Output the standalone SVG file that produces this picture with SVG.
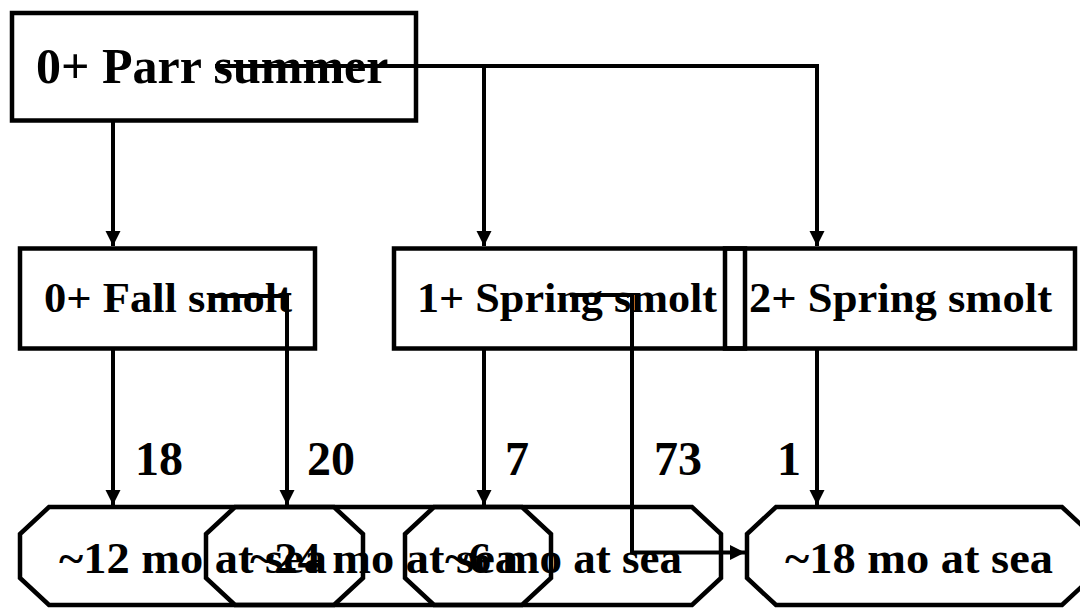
<svg xmlns="http://www.w3.org/2000/svg" width="1080" height="608" viewBox="0 0 1080 608">
  <defs>
    <marker id="arr" markerUnits="userSpaceOnUse" markerWidth="16" markerHeight="16" viewBox="0 0 16 16" refX="15" refY="8" orient="auto">
      <path d="M0,0.5 L15,8 L0,15.5 Z" fill="#000"/>
    </marker>
    <style>
      .shape { fill: none; stroke: #000; stroke-width: 4.5; }
      .conn { fill: none; stroke: #000; stroke-width: 4; }
      .t { font-family: "Liberation Serif", "Times New Roman", serif; font-weight: bold; fill: #000; }
      .top { font-size: 50px; }
      .mid { font-size: 42px; }
      .bot { font-size: 44px; }
      .lbl { font-size: 48px; }
    </style>
  </defs>
  <rect width="1080" height="608" fill="#fff"/>

  <g id="parr-summer">
    <rect class="shape" x="12" y="13" width="404" height="107.5"/>
    <text class="t top" x="36" y="83">0+ Parr summer</text>
  </g>
  <g id="fall-smolt">
    <rect class="shape" x="20" y="248.5" width="295" height="100"/>
    <text class="t mid" x="44" y="312" textLength="248" lengthAdjust="spacingAndGlyphs">0+ Fall smolt</text>
  </g>
  <g id="spring-smolt-1">
    <rect class="shape" x="394" y="248.5" width="351" height="100"/>
    <text class="t mid" x="417" y="312" textLength="300" lengthAdjust="spacingAndGlyphs">1+ Spring smolt</text>
  </g>
  <g id="spring-smolt-2">
    <rect class="shape" x="725" y="248.5" width="350" height="100"/>
    <text class="t mid" x="749" y="312" textLength="303" lengthAdjust="spacingAndGlyphs">2+ Spring smolt</text>
  </g>
  <g id="sea-12">
    <polygon class="shape" points="49,507 692,507 721,534 721,578 692,605 49,605 20,578 20,534"/>
    <text class="t bot" x="59" y="573" textLength="268" lengthAdjust="spacingAndGlyphs">~12 mo at sea</text>
  </g>
  <g id="sea-24">
    <polygon class="shape" points="235,507 334,507 363,534 363,578 334,605 235,605 206,578 206,534"/>
    <text class="t bot" x="250" y="573" textLength="268" lengthAdjust="spacingAndGlyphs">~24 mo at sea</text>
  </g>
  <g id="sea-6">
    <polygon class="shape" points="434,507 522,507 551,534 551,578 522,605 434,605 405,578 405,534"/>
    <text class="t bot" x="445" y="573" textLength="237" lengthAdjust="spacingAndGlyphs">~6 mo at sea</text>
  </g>
  <g id="sea-18">
    <polygon class="shape" points="776,507 1062,507 1091,534 1091,578 1062,605 776,605 747,578 747,534"/>
    <text class="t bot" x="785" y="573" textLength="268" lengthAdjust="spacingAndGlyphs">~18 mo at sea</text>
  </g>

  <g id="connectors">
    <path class="conn" d="M113,122 V246" marker-end="url(#arr)"/>
    <path class="conn" d="M215,66 H817 V246" marker-end="url(#arr)"/>
    <path class="conn" d="M484,66 V246" marker-end="url(#arr)"/>
    <path class="conn" d="M113,350 V505" marker-end="url(#arr)"/>
    <path class="conn" d="M212,296 H287 V505" marker-end="url(#arr)"/>
    <path class="conn" d="M484,350 V505" marker-end="url(#arr)"/>
    <path class="conn" d="M570,295 H632 V552.5 H745" marker-end="url(#arr)"/>
    <path class="conn" d="M817,350 V505" marker-end="url(#arr)"/>
  </g>
  <g id="labels">
    <text class="t lbl" x="135" y="475">18</text>
    <text class="t lbl" x="307" y="475">20</text>
    <text class="t lbl" x="505" y="475">7</text>
    <text class="t lbl" x="654" y="475">73</text>
    <text class="t lbl" x="777" y="475">1</text>
  </g>
</svg>
